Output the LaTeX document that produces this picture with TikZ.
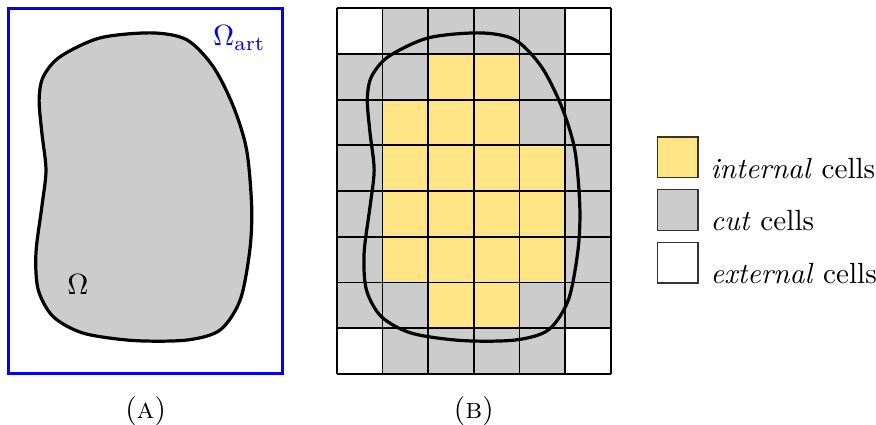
\documentclass[tikz,border=0pt]{standalone}
\usetikzlibrary{positioning}
\definecolor{cutgray}{RGB}{204,204,204}
\definecolor{intyellow}{RGB}{255,229,133}
% closed boundary of the physical domain, in cell units
\newcommand{\domainshape}{plot[smooth cycle] coordinates {(3.13,7.46) (2.0,7.35) (1.13,6.94) (0.76,6.5) (0.67,6.0) (0.73,5.27) (0.82,4.46) (0.73,3.66) (0.60,2.64) (0.65,1.84) (0.98,1.25) (1.64,0.89) (2.73,0.73) (3.9,0.74) (4.63,0.96) (5.07,1.62) (5.28,2.71) (5.32,3.66) (5.21,4.9) (4.92,5.85) (4.48,6.72) (3.9,7.31)}}

\begin{document}
\begin{tikzpicture}[x=0.55cm, y=0.55cm,
    boundary/.style={line width=1.1pt},
    artframe/.style={blue, line width=1pt},
    gridline/.style={line width=0.6pt, step=1},
    legendbox/.style={draw=black!80, thin, minimum size=0.49cm, inner sep=0pt},
    legendtext/.style={anchor=base west, inner sep=0pt}]
\useasboundingbox (-0.186,-1.116) rectangle (18.98,8.18);

% (A) domain inside the artificial box
\draw[boundary, fill=cutgray] \domainshape;
\draw[artframe] (0,0) rectangle (6,8);
\node (omega) at (1.52,1.95) {$\Omega$};
\node[blue, anchor=east] (omegaart) at (5.85,7.35) {$\Omega_{\mathrm{art}}$};
\node (capa) at (3,-0.81) {(\textsc{a})};

% (B) cartesian grid and the same boundary
\begin{scope}[shift={(7.18,0)}]
  \fill[cutgray] (0,0) rectangle (6,8);
  \foreach \i/\j in {0/7,5/7,5/6,0/0,5/0}
    \fill[white] (\i,\j) rectangle ++(1,1);
  \foreach \i/\j in {2/6,3/6,1/5,2/5,3/5,1/4,2/4,3/4,4/4,1/3,2/3,3/3,4/3,1/2,2/2,3/2,4/2,2/1,3/1}
    \fill[intyellow] (\i,\j) rectangle ++(1,1);
  \draw[gridline] (0,0) grid (6,8);
  \draw[boundary] \domainshape;
  \node (capb) at (3,-0.81) {(\textsc{b})};
\end{scope}

% legend
\node[legendbox, fill=intyellow, anchor=south west] (intbox) at (14.18,4.28) {};
\node[legendbox, fill=cutgray, below=0.13cm of intbox] (cutbox) {};
\node[legendbox, fill=white, below=0.13cm of cutbox] (extbox) {};
\node[legendtext] (inttext) at ([xshift=0.14cm]intbox.south east) {\textit{internal} cells};
\node[legendtext] (cuttext) at ([xshift=0.14cm]cutbox.south east) {\textit{cut} cells};
\node[legendtext] (exttext) at ([xshift=0.14cm]extbox.south east) {\textit{external} cells};
\end{tikzpicture}
\end{document}
